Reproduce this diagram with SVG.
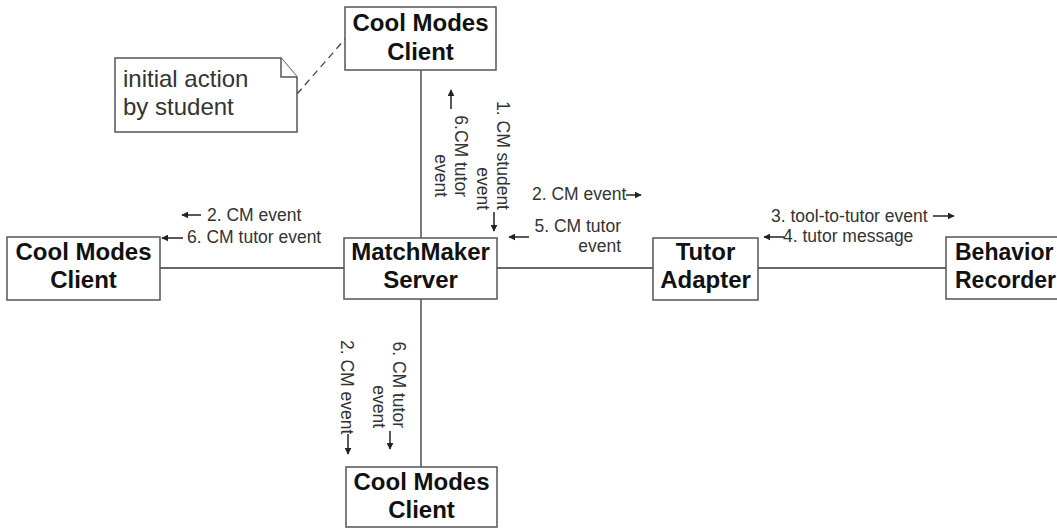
<svg xmlns="http://www.w3.org/2000/svg" width="1057" height="529" viewBox="0 0 1057 529">
<style>
.box{fill:#fff;stroke:#555;stroke-width:1.5}
.nt{font-family:"Liberation Sans",Arial,sans-serif;font-weight:bold;font-size:24px;fill:#111;text-anchor:middle}
.conn{stroke:#333;stroke-width:1.3;fill:none}
.lbl{font-family:"Liberation Sans",Arial,sans-serif;font-size:17.5px;fill:#333}
.arr{stroke:#222;stroke-width:1.5;fill:none;marker-end:url(#ah)}
.note{fill:#fff;stroke:#555;stroke-width:1.5}
.notet{font-family:"Liberation Sans",Arial,sans-serif;font-size:24px;fill:#333}
</style>
<defs>
<marker id="ah" viewBox="0 0 10 10" refX="9" refY="5" markerWidth="7" markerHeight="7" markerUnits="userSpaceOnUse" orient="auto">
<path d="M0,0 L10,5 L0,10 z" fill="#222"/>
</marker>
</defs>
<rect width="1057" height="529" fill="#fff"/>
<g id="connectors">
<line class="conn" x1="421" y1="70" x2="421" y2="238"/>
<line class="conn" x1="421" y1="299" x2="421" y2="467"/>
<line class="conn" x1="160" y1="268" x2="344" y2="268"/>
<line class="conn" x1="497" y1="268" x2="653" y2="268"/>
<line class="conn" x1="758" y1="268" x2="946" y2="268"/>
<line x1="297" y1="94" x2="345" y2="39" stroke="#444" stroke-width="1.3" stroke-dasharray="7,5"/>
</g>
<g id="note">
<polygon class="note" points="115,58 281,58 297,77 297,132 115,132"/>
<polyline class="note" points="281,58 281,77 297,77" fill="none"/>
<text class="notet" x="123" y="87">initial action</text>
<text class="notet" x="123" y="115">by student</text>
</g>
<g id="client-top">
<rect class="box" x="345" y="7" width="151" height="63"/>
<text class="nt" x="420.5" y="31">Cool Modes</text>
<text class="nt" x="420.5" y="60">Client</text>
</g>
<g id="client-left">
<rect class="box" x="7" y="237" width="153" height="63"/>
<text class="nt" x="83.5" y="260">Cool Modes</text>
<text class="nt" x="83.5" y="288">Client</text>
</g>
<g id="matchmaker">
<rect class="box" x="344" y="238" width="153" height="61"/>
<text class="nt" x="420.5" y="260">MatchMaker</text>
<text class="nt" x="420.5" y="288">Server</text>
</g>
<g id="tutor-adapter">
<rect class="box" x="653" y="238" width="105" height="62"/>
<text class="nt" x="705.5" y="260">Tutor</text>
<text class="nt" x="705.5" y="288">Adapter</text>
</g>
<g id="behavior-recorder">
<rect class="box" x="946" y="237" width="130" height="62"/>
<text class="nt" x="955" y="260" style="text-anchor:start;font-size:23px">Behavior</text>
<text class="nt" x="955" y="288" style="text-anchor:start;font-size:23px">Recorder</text>
</g>
<g id="client-bottom">
<rect class="box" x="346" y="467" width="151" height="60"/>
<text class="nt" x="421.5" y="490">Cool Modes</text>
<text class="nt" x="421.5" y="518">Client</text>
</g>
<g id="labels">
<line class="arr" x1="201" y1="215" x2="182" y2="215"/>
<text class="lbl" x="207" y="221">2. CM event</text>
<line class="arr" x1="183" y1="238" x2="162" y2="238"/>
<text class="lbl" x="187" y="243">6. CM tutor event</text>
<text class="lbl" x="532" y="200">2. CM event</text>
<line class="arr" x1="626" y1="195" x2="641" y2="195"/>
<line class="arr" x1="529" y1="237" x2="509" y2="237"/>
<text class="lbl" text-anchor="end"><tspan x="621" y="232">5. CM tutor</tspan><tspan x="621" y="252">event</tspan></text>
<text class="lbl" x="771" y="222">3. tool-to-tutor event</text>
<line class="arr" x1="933" y1="216" x2="954" y2="216"/>
<line class="arr" x1="784" y1="237" x2="764" y2="237"/>
<text class="lbl" x="783" y="242">4. tutor message</text>
<text class="lbl" text-anchor="end" transform="translate(497,210) rotate(90)"><tspan x="0" y="0">1. CM student</tspan><tspan x="0" y="20">event</tspan></text>
<line class="arr" x1="494" y1="212" x2="494" y2="231"/>
<text class="lbl" text-anchor="end" transform="translate(455,197) rotate(90)"><tspan x="0" y="0">6.CM tutor</tspan><tspan x="0" y="20">event</tspan></text>
<line class="arr" x1="451" y1="109" x2="451" y2="90"/>
<text class="lbl" transform="translate(341,340) rotate(90)">2. CM event</text>
<line class="arr" x1="348" y1="434" x2="348" y2="454"/>
<text class="lbl" text-anchor="end" transform="translate(393,428) rotate(90)"><tspan x="0" y="0">6. CM tutor</tspan><tspan x="0" y="20">event</tspan></text>
<line class="arr" x1="390" y1="431" x2="390" y2="449"/>
</g>
</svg>
